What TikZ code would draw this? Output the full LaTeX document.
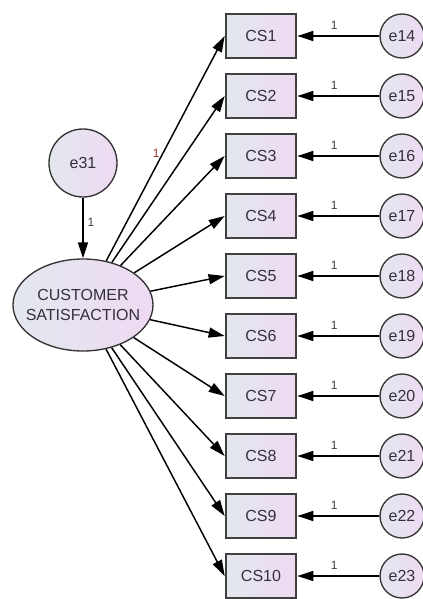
\documentclass[tikz,border=0pt]{standalone}
\usepackage{fontspec}
\setmainfont{Liberation Sans}
\usetikzlibrary{shapes.geometric}
\usetikzlibrary{arrows.meta}
\definecolor{semtext}{HTML}{34303C}
\definecolor{semleft}{HTML}{E3E7EE}
\definecolor{semright}{HTML}{EEDAF3}
\definecolor{semred}{HTML}{9A2E2E}
\tikzset{
  obsbox/.style={rectangle,draw=black!75,line width=1.5pt,minimum width=53pt,minimum height=33.5pt,left color=semleft,right color=semright,text=semtext,font=\fontsize{12}{13}\selectfont},
  errcirc/.style={circle,draw=black!80,line width=1pt,minimum size=33pt,inner sep=0pt,left color=semleft,right color=semright,text=semtext,font=\fontsize{12}{13}\selectfont},
  latent/.style={ellipse,draw=black!80,line width=1pt,minimum width=105pt,minimum height=69pt,inner sep=0pt,left color=semleft,right color=semright},
  path/.style={line width=1.1pt,-{Triangle[length=12pt,width=7.5pt]}},
  wlabel/.style={font=\fontsize{9}{10}\selectfont,text=black!75,inner sep=1pt}
}

\begin{document}
\begin{tikzpicture}[x=0.75pt,y=-0.75pt]
\useasboundingbox (0,0) rectangle (422,599);

\node[latent,label={[align=center,text=semtext,font=\fontsize{12}{14.5}\selectfont]center:CUSTOMER\\SATISFACTION}] (CSat) at (83,305) {};
\node[errcirc,minimum size=51pt] (e31) at (83,163) {e31};
\draw[path] (e31) -- (CSat) node[wlabel,pos=0.4,right=2pt] {1};

\node[obsbox] (CS1) at (261,36) {CS1};
\node[obsbox] (CS2) at (261,96) {CS2};
\node[obsbox] (CS3) at (261,156) {CS3};
\node[obsbox] (CS4) at (261,216) {CS4};
\node[obsbox] (CS5) at (261,276) {CS5};
\node[obsbox] (CS6) at (261,336) {CS6};
\node[obsbox] (CS7) at (261,396) {CS7};
\node[obsbox] (CS8) at (261,456) {CS8};
\node[obsbox] (CS9) at (261,516) {CS9};
\node[obsbox] (CS10) at (261,576) {CS10};

\node[errcirc] (e14) at (402,36) {e14};
\node[errcirc] (e15) at (402,96) {e15};
\node[errcirc] (e16) at (402,156) {e16};
\node[errcirc] (e17) at (402,216) {e17};
\node[errcirc] (e18) at (402,276) {e18};
\node[errcirc] (e19) at (402,336) {e19};
\node[errcirc] (e20) at (402,396) {e20};
\node[errcirc] (e21) at (402,456) {e21};
\node[errcirc] (e22) at (402,516) {e22};
\node[errcirc] (e23) at (402,576) {e23};

% loadings
\draw[path] (CSat) -- (CS1.west) node[wlabel,text=semred,pos=0.48,left=1pt] {1};
\draw[path] (CSat) -- (CS2.west);
\draw[path] (CSat) -- (CS3.west);
\draw[path] (CSat) -- (CS4.west);
\draw[path] (CSat) -- (CS5.west);
\draw[path] (CSat) -- (CS6.west);
\draw[path] (CSat) -- (CS7.west);
\draw[path] (CSat) -- (CS8.west);
\draw[path] (CSat) -- (CS9.west);
\draw[path] (CSat) -- (CS10.west);

% errors
\draw[path] (e14) -- (CS1) node[wlabel,pos=0.55,above=3pt] {1};
\draw[path] (e15) -- (CS2) node[wlabel,pos=0.55,above=3pt] {1};
\draw[path] (e16) -- (CS3) node[wlabel,pos=0.55,above=3pt] {1};
\draw[path] (e17) -- (CS4) node[wlabel,pos=0.55,above=3pt] {1};
\draw[path] (e18) -- (CS5) node[wlabel,pos=0.55,above=3pt] {1};
\draw[path] (e19) -- (CS6) node[wlabel,pos=0.55,above=3pt] {1};
\draw[path] (e20) -- (CS7) node[wlabel,pos=0.55,above=3pt] {1};
\draw[path] (e21) -- (CS8) node[wlabel,pos=0.55,above=3pt] {1};
\draw[path] (e22) -- (CS9) node[wlabel,pos=0.55,above=3pt] {1};
\draw[path] (e23) -- (CS10) node[wlabel,pos=0.55,above=3pt] {1};

\end{tikzpicture}
\end{document}
